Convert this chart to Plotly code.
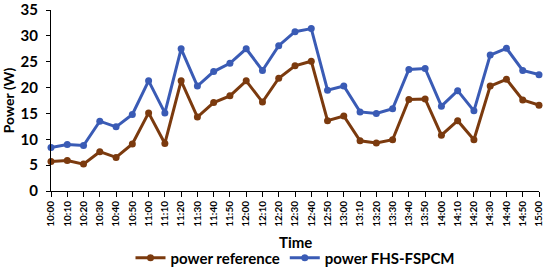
import plotly.graph_objects as go

times = [
    '10:00', '10:10', '10:20', '10:30', '10:40', '10:50', '11:00', '11:10',
    '11:20', '11:30', '11:40', '11:50', '12:00', '12:10', '12:20', '12:30',
    '12:40', '12:50', '13:00', '13:10', '13:20', '13:30', '13:40', '13:50',
    '14:00', '14:10', '14:20', '14:30', '14:40', '14:50', '15:00'
]
power_reference = [
    5.7, 5.9, 5.2, 7.6, 6.5, 9.1, 15.1, 9.2, 21.3, 14.3, 17.1, 18.4, 21.3,
    17.2, 21.8, 24.2, 25.1, 13.6, 14.5, 9.7, 9.3, 9.9, 17.7, 17.8, 10.8,
    13.6, 9.9, 20.3, 21.6, 17.6, 16.6
]
power_fhs = [
    8.4, 9.0, 8.8, 13.5, 12.4, 14.8, 21.3, 15.1, 27.5, 20.3, 23.1, 24.7, 27.5,
    23.3, 28.1, 30.8, 31.4, 19.5, 20.3, 15.3, 15.0, 15.9, 23.5, 23.7, 16.4,
    19.4, 15.5, 26.3, 27.6, 23.3, 22.5
]

FONT = "Lato"
brown = "#7B3A0E"
blue = "#3A5BB5"

fig = go.Figure()

fig.add_trace(go.Scatter(
    x=times, y=power_reference, name='power reference',
    mode='lines+markers',
    line=dict(color=brown, width=3),
    marker=dict(color=brown, size=7),
    cliponaxis=False
))
fig.add_trace(go.Scatter(
    x=times, y=power_fhs, name='power FHS-FSPCM',
    mode='lines+markers',
    line=dict(color=blue, width=3),
    marker=dict(color=blue, size=7),
    cliponaxis=False
))

fig.update_layout(
    width=550, height=271,
    margin=dict(l=51, r=11, t=10, b=80),
    paper_bgcolor='white', plot_bgcolor='white',
    font=dict(family=FONT, color='black'),
    showlegend=True,
    legend=dict(
        orientation='h', x=0.5, xanchor='center',
        yref='container', y=0.048, yanchor='middle',
        font=dict(size=15, weight=700), itemwidth=30
    ),
)

# x-axis title as an annotation (axis standoff is ignored without automargin)
fig.add_annotation(
    text='Time', xref='paper', yref='paper', x=0.5, y=-0.282,
    xanchor='center', yanchor='middle', showarrow=False,
    font=dict(size=15, weight=700)
)

fig.update_xaxes(
    type='category', range=[0, 30], automargin=False,
    showline=True, linecolor='black', linewidth=1,
    ticks='outside', ticklen=5, tickcolor='black',
    tickangle=-90, tickfont=dict(size=10, weight=700),
    showgrid=False, zeroline=False
)
fig.update_yaxes(
    range=[0, 35], dtick=5, automargin=False,
    showline=True, linecolor='black', linewidth=1,
    ticks='outside', ticklen=4, tickcolor='black',
    ticklabelstandoff=5,
    tickfont=dict(size=15, weight=700),
    showgrid=False, zeroline=False,
    title=dict(text='Power (W)', font=dict(size=14, weight=700), standoff=10)
)

# drop the default 8px page margin so the figure sits at the window's corner
fig.write_html("out.html", config={'displayModeBar': False},
               post_script="document.body.style.margin='0';")
